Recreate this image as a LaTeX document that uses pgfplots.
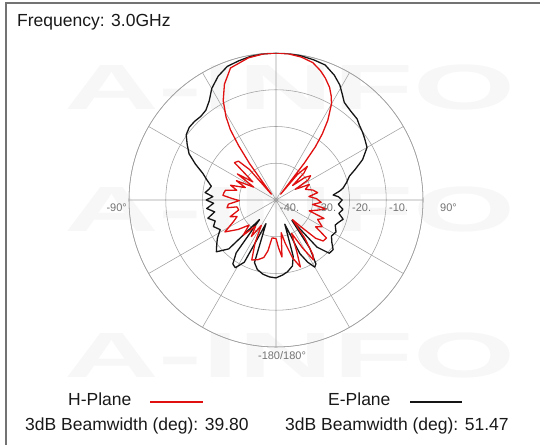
\documentclass[border=0pt]{standalone}
\usepackage{pgfplots}
\pgfplotsset{compat=1.18}
\usepackage{pgfplotstable}
\usepgfplotslibrary{polar}
\usepackage{fontspec}
\setmainfont{Liberation Sans}

\pgfplotstableread{
t db
0 0
5 0
10 -0.2
15 -0.5
20 -0.9
25 -2.5
29 -4.2
32 -6
35 -7.6
40 -8.4
45 -8.8
48 -9.5
52 -10.1
55 -10.6
60 -11.4
65 -14
69 -17
72 -19
76 -20.2
80 -21.5
82 -22.5
85 -24.4
87 -23
90 -22
94 -23
98 -21.6
102 -22.5
106 -21
110 -22
113 -22.5
118 -21.5
123 -22
127 -21
131 -19.4
135 -19.5
139 -23
142 -33
145 -24
148 -19.5
150 -18.9
153 -21
156 -24
160 -33
163 -24
166 -21.5
171 -20.2
175 -19.5
180 -18.8
-175 -19
-170 -19.5
-165 -20.4
-161 -22
-157 -33
-153 -21
-149 -18.5
-146 -19
-143 -22
-140 -33
-136 -21.5
-131 -18.5
-127 -19.8
-123 -21
-118 -22.8
-113 -21.5
-109 -22.5
-105 -20.8
-101 -23
-97 -21
-93 -23
-90 -21
-87 -22.8
-84 -20.6
-81 -21.5
-78 -22
-74 -20.5
-70 -18.8
-66 -16
-62 -13.2
-58 -11.5
-54 -9.8
-50 -9.2
-46 -9.2
-42 -9.4
-38 -9.0
-34 -7.5
-30 -5.0
-25 -2.8
-20 -1.3
-15 -0.8
-10 -0.3
-5 -0.1
0 0
}\eplane

\pgfplotstableread{
t db
0 0
5 -0.1
10 -0.5
15 -1.3
19 -2.8
22 -4.2
25.5 -6.1
28 -8
30 -9.8
33 -14.1
35 -18
36.5 -22
37.5 -27.4
38.5 -38
40 -31
43 -27.5
46 -29.4
49 -34
52 -30
55 -28.5
58 -29.7
61 -34
65 -30
70 -31.5
75 -29.6
80 -28.5
84 -31
88 -29
93 -27.7
97 -30
100 -26.1
104 -28.5
108 -30.5
111 -26
115 -27.5
120 -25.5
124 -27
127 -22.8
131 -23
134 -25
137 -30
140 -33
143 -27
146 -22
148 -20.8
151 -25
155 -30
158 -25
160 -20.6
164 -23.6
168 -28
171 -31
174 -24.4
177 -27
180 -29.5
-177 -29.6
-174 -29.6
-171 -26
-168 -24
-163 -23
-158 -22.4
-154 -27
-150 -32
-146 -28
-142 -31
-137 -26.9
-133 -30
-128 -27
-122 -23.6
-117 -27
-113 -28.5
-110 -26.7
-105 -29.5
-100 -29.2
-99 -26.5
-95 -27
-91 -30
-88 -28
-85 -25.5
-82 -25.7
-79 -26
-76 -29
-72 -27
-68 -31
-64 -28
-60 -33
-56 -27.3
-52 -32
-48 -24.8
-44 -25.3
-41 -29
-38.5 -38
-36 -27.7
-34.5 -22
-33 -17.2
-31 -13.6
-28 -9.4
-24 -5.5
-19 -2
-11 -0.6
-5 -0.1
0 0
}\hplane

\definecolor{hred}{HTML}{E01010}
\definecolor{eblk}{HTML}{151515}
\definecolor{gridc}{HTML}{A0A0A0}

\begin{document}
\begin{tikzpicture}[x=1bp,y=1bp]
\path[use as bounding box] (0,0) rectangle (540,445);
% watermark
\foreach \yy in {358,236,90}
  \node[text=black!3, font=\fontsize{64bp}{64bp}\selectfont\bfseries, xscale=2.05] at (290,\yy) {A-INFO};
% frame
\draw[black!55, line width=2bp] (6,0) -- (6,442) -- (540,442);
\begin{polaraxis}[
  at={(276bp,245bp)}, anchor=center,
  scale only axis, width=294bp, height=294bp,
  xmin=0, xmax=360, ymin=0, ymax=40,
  xtick={0,30,...,330}, ytick={10,20,30,40},
  xticklabels={}, yticklabels={},
  grid=major,
  major grid style={gridc, line width=0.55bp},
  axis line style={gridc, line width=0.55bp},
  y axis line style={draw=none},
  tick style={draw=none},
]
\addplot[eblk, line width=1.3bp, line join=round] table[x expr={90-\thisrow{t}}, y expr={\thisrow{db}+40}] {\eplane};
\addplot[hred, line width=1.3bp, line join=round] table[x expr={90-\thisrow{t}}, y expr={\thisrow{db}+40}] {\hplane};
\end{polaraxis}
% scale labels
\begin{scope}[every node/.style={text=black!55, font=\fontsize{11bp}{11bp}\selectfont, inner sep=0pt}]
\node[anchor=west] at (389,237) {-10.};
\node[anchor=west] at (352,237) {-20.};
\node[anchor=west] at (317,237) {-30.};
\node[anchor=west] at (280,237) {-40.};
\node[anchor=east] at (127,237) {-90°};
\node[anchor=west] at (440,237) {90°};
\node at (282,89) {-180/180°};
\end{scope}
% texts
\begin{scope}[every node/.style={font=\fontsize{17.5bp}{20bp}\selectfont, inner sep=0pt, text=black!90}]
\node[anchor=base west] at (17,418) {Frequency: 3.0GHz};
\node[anchor=base west] at (68,39) {H-Plane};
\node[anchor=base west] at (328,39) {E-Plane};
\node[anchor=base west] at (25,14) {3dB Beamwidth (deg): 39.80};
\node[anchor=base west] at (285,14) {3dB Beamwidth (deg): 51.47};
\end{scope}
\draw[hred, line width=1.8bp] (150,43) -- (203,43);
\draw[eblk, line width=1.8bp] (410,43) -- (462,43);
\end{tikzpicture}
\end{document}
